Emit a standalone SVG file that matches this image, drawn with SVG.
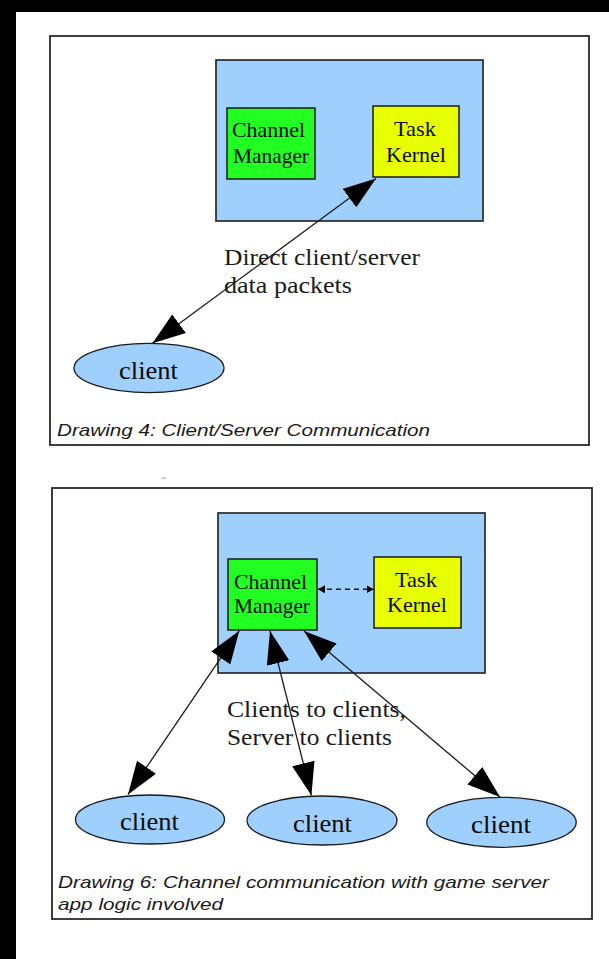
<svg xmlns="http://www.w3.org/2000/svg" width="609" height="959" viewBox="0 0 609 959">
<style>
.frame{fill:#fff;stroke:#2a2a2a;stroke-width:1.8}
.server{fill:#9fcffd;stroke:#2a2a2a;stroke-width:1.7}
.cm{fill:#22fe22;stroke:#1a1a1a;stroke-width:1.5}
.tk{fill:#e8ff00;stroke:#1a1a1a;stroke-width:1.5}
.cl{fill:#9fcffd;stroke:#1a1a1a;stroke-width:1.3}
.lbl{font-family:"Liberation Serif","Times New Roman",serif;fill:#0a0a0a;font-size:21px}
.ctext{font-family:"Liberation Serif","Times New Roman",serif;fill:#0a0a0a;font-size:26px}
.elbl{font-family:"Liberation Serif","Times New Roman",serif;fill:#1a1a1a;font-size:23px}
.cap{font-family:"Liberation Sans",Arial,sans-serif;font-style:italic;fill:#1a1a1a;font-size:17px}
.edge{stroke:#1a1a1a;stroke-width:1.3;fill:none}
.dash{stroke:#1a1a1a;stroke-width:1.5;fill:none;stroke-dasharray:5 4}
</style>
<defs>
<marker id="ah" viewBox="0 0 33 23" refX="33" refY="11.5" markerWidth="33" markerHeight="23" markerUnits="userSpaceOnUse" orient="auto-start-reverse"><path d="M0,0 L33,11.5 L0,23 z" fill="#000"/></marker>
<marker id="sh" viewBox="0 0 7 8" refX="7" refY="4" markerWidth="7" markerHeight="8" markerUnits="userSpaceOnUse" orient="auto-start-reverse"><path d="M0,0 L7,4 L0,8 z" fill="#000"/></marker>
</defs>
<rect x="0" y="0" width="609" height="959" fill="#000"/>
<rect x="16" y="12" width="593" height="947" fill="#fff"/>

<!-- Drawing 4 -->
<g id="frame1">
<rect class="frame" x="50" y="36" width="539" height="409"/>
<text class="cap" x="57" y="436" textLength="373" lengthAdjust="spacingAndGlyphs">Drawing 4: Client/Server Communication</text>
</g>
<g id="server1"><rect class="server" x="216" y="60" width="267" height="161"/></g>
<g id="channelManager1">
<rect class="cm" x="227" y="108" width="88" height="71"/>
<text class="lbl" x="232" y="137" textLength="73" lengthAdjust="spacingAndGlyphs">Channel</text>
<text class="lbl" x="233" y="163" textLength="76" lengthAdjust="spacingAndGlyphs">Manager</text>
</g>
<g id="taskKernel1">
<rect class="tk" x="373" y="106" width="86" height="71"/>
<text class="lbl" x="394" y="136" textLength="42" lengthAdjust="spacingAndGlyphs">Task</text>
<text class="lbl" x="386" y="162" textLength="60" lengthAdjust="spacingAndGlyphs">Kernel</text>
</g>
<g id="client1">
<ellipse class="cl" cx="149" cy="368" rx="75" ry="24.7"/>
<text class="ctext" x="119" y="379" textLength="59" lengthAdjust="spacingAndGlyphs">client</text>
</g>
<g id="connectors1">
<line class="edge" x1="376" y1="178.5" x2="152.5" y2="343.3" marker-start="url(#ah)" marker-end="url(#ah)"/>
<text class="elbl" x="224" y="265" textLength="196" lengthAdjust="spacingAndGlyphs">Direct client/server</text>
<text class="elbl" x="224" y="293" textLength="128" lengthAdjust="spacingAndGlyphs">data packets</text>
</g>

<line x1="161" y1="478" x2="166" y2="478" stroke="#aaa" stroke-width="1"/>

<!-- Drawing 6 -->
<g id="frame2">
<rect class="frame" x="52" y="488" width="540" height="431"/>
<text class="cap" x="58" y="888" textLength="491" lengthAdjust="spacingAndGlyphs">Drawing 6: Channel communication with game server</text>
<text class="cap" x="58" y="910" textLength="165" lengthAdjust="spacingAndGlyphs">app logic involved</text>
</g>
<g id="server2"><rect class="server" x="218" y="513" width="267" height="160"/></g>
<g id="channelManager2">
<rect class="cm" x="228" y="559" width="89" height="71"/>
<text class="lbl" x="234" y="589" textLength="73" lengthAdjust="spacingAndGlyphs">Channel</text>
<text class="lbl" x="234" y="613" textLength="76" lengthAdjust="spacingAndGlyphs">Manager</text>
</g>
<g id="taskKernel2">
<rect class="tk" x="374" y="557" width="87" height="71"/>
<text class="lbl" x="395" y="587" textLength="42" lengthAdjust="spacingAndGlyphs">Task</text>
<text class="lbl" x="387" y="612" textLength="60" lengthAdjust="spacingAndGlyphs">Kernel</text>
</g>
<g id="client2a">
<ellipse class="cl" cx="150" cy="819.5" rx="74.5" ry="24.5"/>
<text class="ctext" x="120" y="830" textLength="59" lengthAdjust="spacingAndGlyphs">client</text>
</g>
<g id="client2b">
<ellipse class="cl" cx="322" cy="820.5" rx="75" ry="24.5"/>
<text class="ctext" x="293" y="831.5" textLength="59" lengthAdjust="spacingAndGlyphs">client</text>
</g>
<g id="client2c">
<ellipse class="cl" cx="501.5" cy="822.3" rx="74.7" ry="25"/>
<text class="ctext" x="471" y="833" textLength="60" lengthAdjust="spacingAndGlyphs">client</text>
</g>
<g id="connectors2">
<line class="dash" x1="318" y1="589.3" x2="373.5" y2="589.3" marker-start="url(#sh)" marker-end="url(#sh)"/>
<line class="edge" x1="239.3" y1="630.7" x2="128" y2="794.5" marker-start="url(#ah)" marker-end="url(#ah)"/>
<line class="edge" x1="270" y1="631" x2="311.4" y2="795.5" marker-start="url(#ah)" marker-end="url(#ah)"/>
<line class="edge" x1="304" y1="631" x2="500" y2="797" marker-start="url(#ah)" marker-end="url(#ah)"/>
<text class="elbl" x="227" y="717" textLength="179" lengthAdjust="spacingAndGlyphs">Clients to clients,</text>
<text class="elbl" x="227" y="745" textLength="165" lengthAdjust="spacingAndGlyphs">Server to clients</text>
</g>
</svg>
